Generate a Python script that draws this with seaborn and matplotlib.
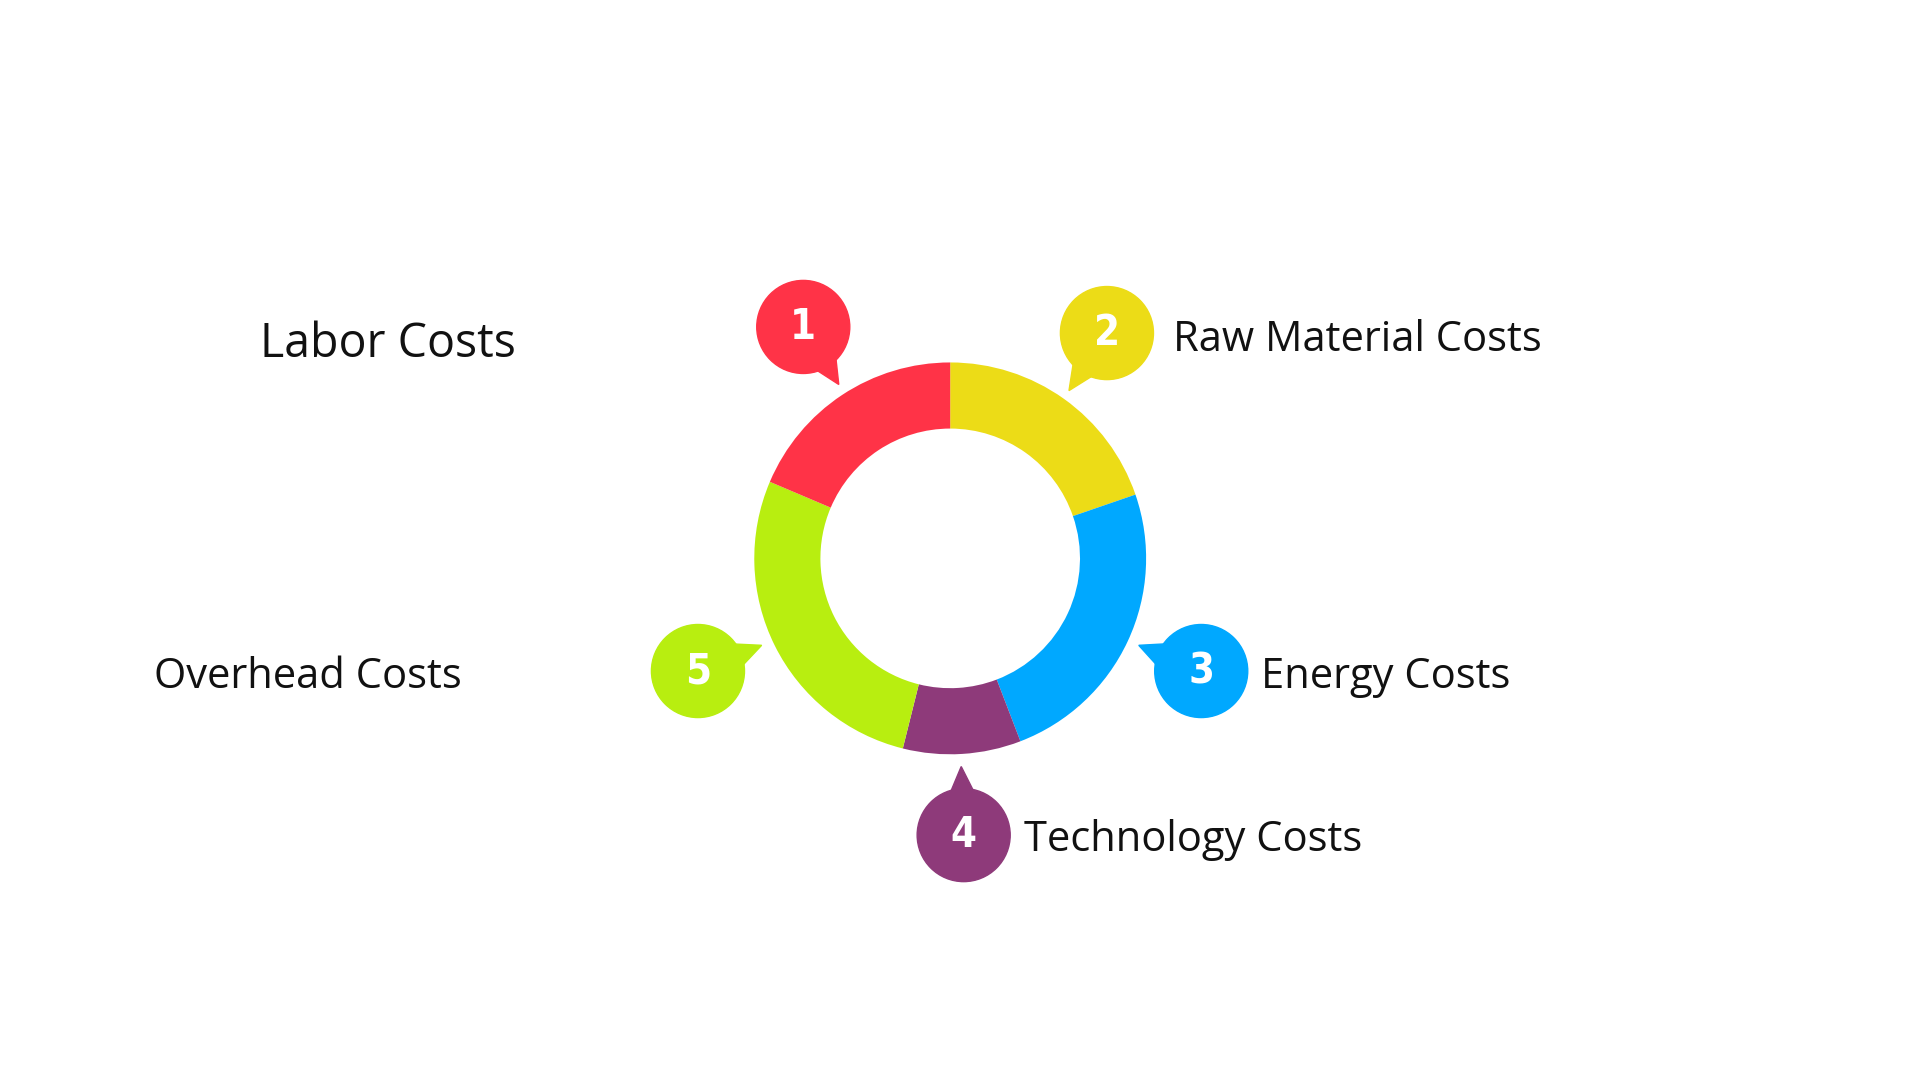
import matplotlib
matplotlib.use("Agg")
import matplotlib.pyplot as plt
import seaborn as sns
from matplotlib.patches import Circle, Polygon

sns.set_theme(style="white")
plt.rcParams['font.family'] = ['Open Sans', 'DejaVu Sans']

# Data (clockwise from top)
categories = ["Raw Material Costs", "Energy Costs", "Technology Costs", "Overhead Costs", "Labor Costs"]
numbers = ["2", "3", "4", "5", "1"]
values = [71, 88, 35, 99, 67]
colors = ["#ECDC17", "#00A8FF", "#8E3A7A", "#B8EE10", "#FF3347"]

W, H = 1568, 882
fig = plt.figure(figsize=(19.2, 10.8), dpi=100)
ax = fig.add_axes([0, 0, 1, 1])

def Y(y):
    return H - y

cx, cy = 776, 456
ax.pie(values, colors=colors, startangle=90, counterclock=False,
       radius=160, center=(cx, Y(cy)), frame=True,
       wedgeprops=dict(width=54, edgecolor='none'))
ax.set_xlim(0, W)
ax.set_ylim(0, H)
ax.set_aspect('equal')
ax.axis('off')

bubbles = {
    "1": ((656, 267), (685, 314)),
    "2": ((904, 272), (873, 319)),
    "3": ((981, 548), (930, 527)),
    "4": ((787, 682), (785, 626)),
    "5": ((570, 548), (622, 527)),
}
label_pos = {
    "Labor Costs": (212, 281),
    "Raw Material Costs": (958, 278),
    "Energy Costs": (1030, 553),
    "Technology Costs": (836, 686),
    "Overhead Costs": (126, 553),
}
label_size = {"Labor Costs": 33.5}
r = 38
for cat, num, col in zip(categories, numbers, colors):
    (bx, by), (tx, ty) = bubbles[num]
    ax.add_patch(Circle((bx, Y(by)), r, color=col, zorder=3))
    dx, dy = tx - bx, ty - by
    L = (dx**2 + dy**2) ** 0.5
    ux, uy = dx / L, dy / L
    px, py = -uy, ux
    bxp, byp = bx + ux * (r - 8), by + uy * (r - 8)
    pts = [(bxp + px * 12, Y(byp + py * 12)), (bxp - px * 12, Y(byp - py * 12)), (tx, Y(ty))]
    ax.add_patch(Polygon(pts, closed=True, color=col, zorder=3))
    ax.text(bx, Y(by), num, color='white', fontsize=30, fontweight='bold',
            ha='center', va='center', zorder=4, family=['DejaVu Sans'],
            fontstretch='condensed')
    lx, ly = label_pos[cat]
    ax.text(lx, Y(ly), cat, fontsize=label_size.get(cat, 30), color='#111111',
            ha='left', va='center')

fig.savefig("out.png", dpi=100, facecolor='white')
